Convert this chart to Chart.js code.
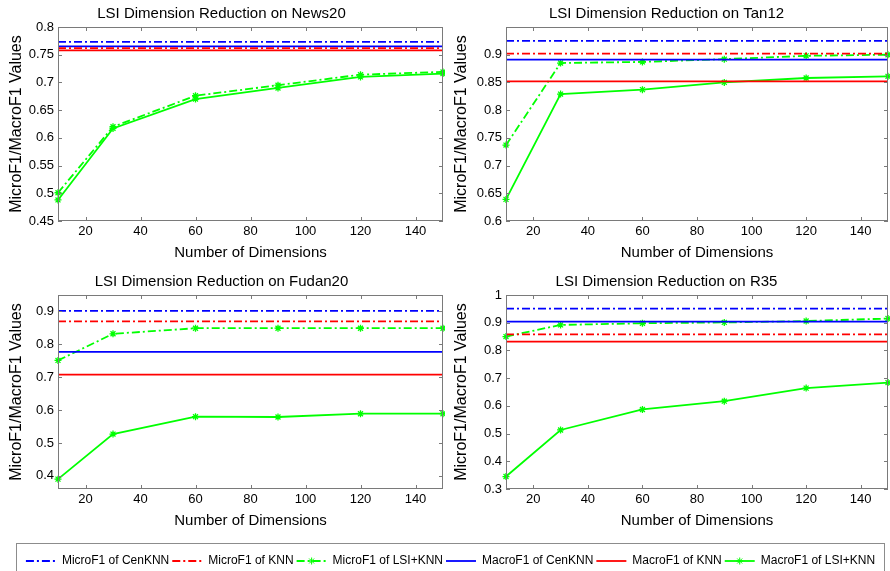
<!DOCTYPE html>
<html>
<head>
<meta charset="utf-8">
<script src="https://cdn.jsdelivr.net/npm/chart.js@4.4.1/dist/chart.umd.min.js"></script>
<style>
  body { margin: 0; background: #fff; width: 890px; height: 571px; position: relative; overflow: hidden; }
  .panel { position: absolute; width: 445px; height: 262px; }
  #legendBox { position: absolute; left: 16px; top: 543px; width: 869px; height: 30px; border: 1px solid #8c8c8c; box-sizing: border-box; }
  #legendWrap { position: absolute; left: 17px; top: 544px; width: 867px; height: 60px; }
</style>
</head>
<body>
<div class="panel" style="left:0;top:0"><canvas id="c0"></canvas></div>
<div class="panel" style="left:445px;top:0"><canvas id="c1"></canvas></div>
<div class="panel" style="left:0;top:268px"><canvas id="c2"></canvas></div>
<div class="panel" style="left:445px;top:268px"><canvas id="c3"></canvas></div>
<div id="legendBox"></div>
<div id="legendWrap"><canvas id="leg"></canvas></div>

<script>
// dimensions used for LSI
const dims = [10, 30, 60, 90, 120, 150];
const xTicks = [20, 40, 60, 80, 100, 120, 140];

const titles = [
  "LSI Dimension Reduction on News20",
  "LSI Dimension Reduction on Tan12",
  "LSI Dimension Reduction on Fudan20",
  "LSI Dimension Reduction on R35"
];

// baselines (constant over dimensions)
const microCenKNN = [0.773, 0.925, 0.902, 0.951];
const microKNN    = [0.762, 0.902, 0.870, 0.858];
const macroCenKNN = [0.765, 0.891, 0.777, 0.904];
const macroKNN    = [0.758, 0.852, 0.708, 0.832];

// LSI+KNN per dataset
const microLSI = [
  [0.501, 0.620, 0.676, 0.695, 0.714, 0.719],
  [0.737, 0.885, 0.887, 0.892, 0.898, 0.900],
  [0.751, 0.832, 0.849, 0.849, 0.849, 0.849],
  [0.850, 0.892, 0.898, 0.901, 0.906, 0.915]
];
const macroLSI = [
  [0.488, 0.617, 0.670, 0.690, 0.710, 0.716],
  [0.639, 0.829, 0.837, 0.850, 0.858, 0.861],
  [0.390, 0.527, 0.580, 0.579, 0.589, 0.589],
  [0.345, 0.513, 0.587, 0.617, 0.664, 0.684]
];

// y axis ranges and tick labels
const yMin = [0.45, 0.6, 0.36, 0.3];
const yMax = [0.8, 0.95, 0.95, 1];
const yTicks = [
  [0.45, 0.5, 0.55, 0.6, 0.65, 0.7, 0.75, 0.8],
  [0.6, 0.65, 0.7, 0.75, 0.8, 0.85, 0.9],
  [0.4, 0.5, 0.6, 0.7, 0.8, 0.9],
  [0.3, 0.4, 0.5, 0.6, 0.7, 0.8, 0.9, 1]
];
const yAxisWidth = [58, 61, 58, 61];

const legendNames = [
  "MicroF1 of CenKNN", "MicroF1 of KNN", "MicroF1 of LSI+KNN",
  "MacroF1 of CenKNN", "MacroF1 of KNN", "MacroF1 of LSI+KNN"
];

const FONT = 'Arial, "Liberation Sans", sans-serif';
Chart.defaults.font.family = FONT;
Chart.defaults.color = "#000";

const BLUE = "#0000ff", RED = "#ff0000", GREEN = "#00ff00";
const DASHDOT = [8, 3, 2, 3];

// MATLAB style axes box with inward ticks
const boxPlugin = {
  id: "box",
  afterDraw(chart) {
    const { ctx, chartArea: a, scales } = chart;
    ctx.save();
    ctx.strokeStyle = "#7a7a7a";
    ctx.lineWidth = 1;
    ctx.setLineDash([]);
    ctx.strokeRect(Math.round(a.left) + 0.5, Math.round(a.top) + 0.5, Math.round(a.width) - 1, Math.round(a.height) - 1);
    ctx.beginPath();
    scales.x.ticks.forEach(t => {
      const px = Math.round(scales.x.getPixelForValue(t.value)) + 0.5;
      ctx.moveTo(px, a.bottom); ctx.lineTo(px, a.bottom - 4);
      ctx.moveTo(px, a.top); ctx.lineTo(px, a.top + 4);
    });
    scales.y.ticks.forEach(t => {
      const py = Math.round(scales.y.getPixelForValue(t.value)) + 0.5;
      ctx.moveTo(a.left, py); ctx.lineTo(a.left + 4, py);
      ctx.moveTo(a.right, py); ctx.lineTo(a.right - 4, py);
    });
    ctx.stroke();
    ctx.restore();
  }
};

function flat(v) {
  return [{ x: dims[0], y: v }, { x: dims[dims.length - 1], y: v }];
}

function series(vals) {
  return dims.map((d, i) => ({ x: d, y: vals[i] }));
}

function makePanel(i) {
  const datasets = [
    { label: legendNames[0], data: flat(microCenKNN[i]), borderColor: BLUE, borderDash: DASHDOT, pointRadius: 0 },
    { label: legendNames[1], data: flat(microKNN[i]), borderColor: RED, borderDash: DASHDOT, pointRadius: 0 },
    { label: legendNames[3], data: flat(macroCenKNN[i]), borderColor: BLUE, pointRadius: 0 },
    { label: legendNames[4], data: flat(macroKNN[i]), borderColor: RED, pointRadius: 0 },
    { label: legendNames[2], data: series(microLSI[i]), borderColor: GREEN, borderDash: DASHDOT,
      pointStyle: "star", pointRadius: 3.5, pointBorderColor: GREEN, pointBorderWidth: 1.3 },
    { label: legendNames[5], data: series(macroLSI[i]), borderColor: GREEN,
      pointStyle: "star", pointRadius: 3.5, pointBorderColor: GREEN, pointBorderWidth: 1.3 }
  ];
  datasets.forEach(d => { d.borderWidth = 1.8; d.fill = false; d.tension = 0; d.clip = 5; d.backgroundColor = d.borderColor; });

  new Chart(document.getElementById("c" + i), {
    type: "line",
    data: { datasets },
    options: {
      responsive: true,
      maintainAspectRatio: false,
      animation: false,
      layout: { autoPadding: false, padding: { left: 0, right: 2, top: 0, bottom: 0 } },
      plugins: {
        legend: { display: false },
        tooltip: { enabled: false },
        title: {
          display: true, text: titles[i], color: "#000",
          font: { size: 15, weight: "normal" }, padding: { top: 5, bottom: 4 }
        }
      },
      scales: {
        x: {
          type: "linear", min: dims[0], max: dims[dims.length - 1],
          grid: { display: false, drawTicks: false }, border: { display: false },
          afterBuildTicks: s => { s.ticks = xTicks.map(v => ({ value: v })); },
          afterFit: s => { s.height = 41; s.paddingLeft = 0; s.paddingRight = 0; },
          ticks: { font: { size: 13 }, padding: 3, maxRotation: 0, callback: v => String(v) },
          title: { display: true, text: "Number of Dimensions", font: { size: 15 }, padding: { top: 0, bottom: 0 } }
        },
        y: {
          min: yMin[i], max: yMax[i],
          grid: { display: false, drawTicks: false }, border: { display: false },
          afterBuildTicks: s => { s.ticks = yTicks[i].map(v => ({ value: v })); },
          afterFit: s => { s.width = yAxisWidth[i]; },
          ticks: { font: { size: 13 }, padding: 4, callback: v => String(v) },
          title: { display: true, text: "MicroF1/MacroF1 Values", font: { size: 16 }, padding: { top: 7, bottom: 0 } }
        }
      }
    },
    plugins: [boxPlugin]
  });
}

[0, 1, 2, 3].forEach(makePanel);

// shared legend at the bottom
const legColors = [BLUE, RED, GREEN, BLUE, RED, GREEN];
const legDash = [DASHDOT, DASHDOT, DASHDOT, [], [], []];
const LEG_BOX = 30;

const legendMarkers = {
  id: "legendMarkers",
  afterDraw(chart) {
    const boxes = chart.legend.legendHitBoxes;
    const ctx = chart.ctx;
    ctx.save();
    ctx.strokeStyle = GREEN;
    ctx.fillStyle = GREEN;
    ctx.setLineDash([]);
    [2, 5].forEach(k => {
      const b = boxes[k];
      if (!b) return;
      Chart.helpers.drawPoint(ctx, { pointStyle: "star", radius: 3.5, borderWidth: 1.3 },
        b.left + LEG_BOX / 2, b.top + b.height / 2);
    });
    ctx.restore();
  }
};

new Chart(document.getElementById("leg"), {
  type: "line",
  data: {
    datasets: legendNames.map((n, k) => ({
      label: n, data: [], borderColor: legColors[k], backgroundColor: legColors[k],
      borderDash: legDash[k], borderWidth: 1.8
    }))
  },
  options: {
    responsive: true,
    maintainAspectRatio: false,
    animation: false,
    layout: { padding: { top: 8 } },
    scales: { x: { display: false }, y: { display: false } },
    plugins: {
      tooltip: { enabled: false },
      legend: {
        onClick: null,
        labels: {
          usePointStyle: true, pointStyleWidth: LEG_BOX, boxHeight: 12,
          padding: 3, color: "#000", font: { size: 12 },
          generateLabels: () => legendNames.map((n, k) => ({
            text: n, datasetIndex: k, hidden: false,
            fillStyle: legColors[k], strokeStyle: legColors[k],
            lineWidth: 1.8, lineDash: legDash[k], pointStyle: "line", fontColor: "#000"
          }))
        }
      }
    }
  },
  plugins: [legendMarkers]
});
</script>
</body>
</html>
